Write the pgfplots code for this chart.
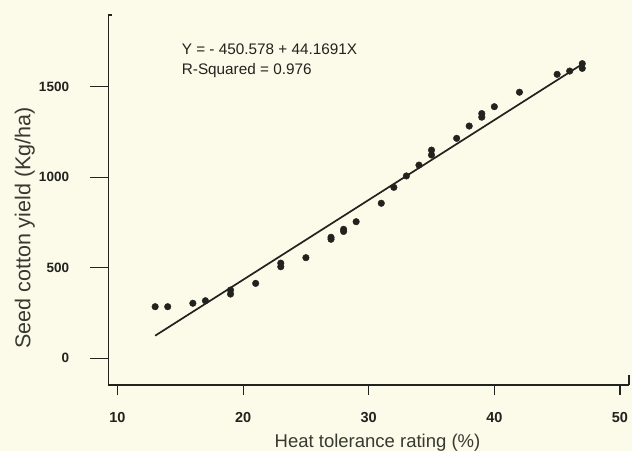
\documentclass[border=0pt]{standalone}
\usepackage{fontspec}
\setmainfont{Liberation Sans}
\usepackage{pgfplots}
\pgfplotsset{compat=1.18}
\definecolor{bgc}{RGB}{252,250,232}
\definecolor{ink}{RGB}{34,34,30}
\definecolor{txt}{RGB}{55,58,48}
\begin{document}
\begin{tikzpicture}[x=1pt,y=1pt]
\fill[bgc] (0,0) rectangle (632,451);
\useasboundingbox (0,0) rectangle (632,451);
\begin{axis}[
  at={(108.3pt,66pt)}, anchor=south west,
  width=520.7pt, height=370pt, scale only axis,
  xmin=9.27, xmax=50.72, ymin=-149, ymax=1897,
  axis x line*=bottom, axis y line*=left,
  axis line style={ink, line width=1.1pt},
  xtick={10,20,30,40,50}, ytick={0,500,1000,1500},
  minor tick num=0,
  tick align=outside,
  xtick style={ink, line width=1.1pt, /pgfplots/major tick length=10pt},
  ytick style={ink, line width=1.1pt, /pgfplots/major tick length=18pt},
  /pgf/number format/assume math mode=true,
  /pgf/number format/1000 sep={},
  xticklabel style={font=\bfseries\fontsize{14.5}{14.5}\selectfont, text=ink, inner sep=0pt, anchor=north, yshift=-23pt},
  yticklabel style={font=\bfseries\fontsize{13.5}{13.5}\selectfont, text=ink, inner sep=0pt, anchor=east, xshift=-34.8pt},
  clip=false,
]
\addplot[only marks, mark=*, mark size=3.3pt, ink] coordinates {
  (13,284) (14,284) (16,303) (17,317) (19,376) (19,354) (21,413)
  (23,525) (23,505) (25,555) (27,657) (27,668) (28,700) (28,712)
  (29,754) (31,856) (32,944) (33,1007) (34,1067) (35,1150) (35,1123)
  (37,1215) (38,1283) (39,1332) (39,1352) (40,1390) (42,1470)
  (45,1569) (46,1587) (47,1602) (47,1628)
};
\addplot[ink, line width=1.7pt] coordinates {(13,123.6) (47,1625.4)};
\node[anchor=base west, inner sep=0pt, text=ink, font=\fontsize{15.3}{15.3}\selectfont] at (axis cs:15.11,1680) {Y = - 450.578 + 44.1691X};
\node[anchor=base west, inner sep=0pt, text=ink, font=\fontsize{15.3}{15.3}\selectfont] at (axis cs:15.11,1570) {R-Squared = 0.976};
\end{axis}
\draw[ink, line width=1.1pt] (108.3,436) -- (112,436);
\draw[ink, line width=1.1pt] (629,66) -- (629,76);
\node[anchor=base, inner sep=0pt, text=txt, font=\fontsize{18.5}{18.5}\selectfont] at (377.5,4) {Heat tolerance rating (\%)};
\node[anchor=base, rotate=90, inner sep=0pt, text=txt, font=\fontsize{21.5}{21.5}\selectfont] at (30.5,223) {Seed cotton yield (Kg/ha)};
\end{tikzpicture}
\end{document}
